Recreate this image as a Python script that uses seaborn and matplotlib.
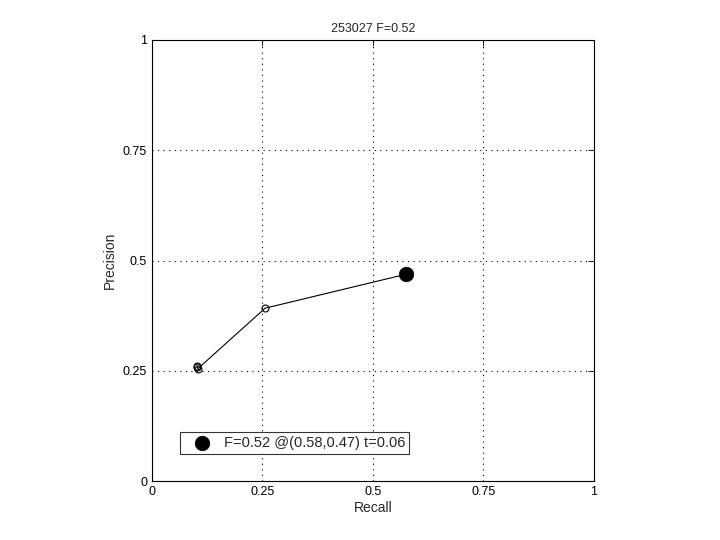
#!/usr/bin/env python3
"""Precision/recall curve for image 253027, MATLAB-style boundary benchmark plot."""

import matplotlib

matplotlib.use("Agg")
import matplotlib.pyplot as plt
import pandas as pd
import seaborn as sns

# values
RECALL = [0.102, 0.103, 0.104, 0.256, 0.575]
PRECISION = [0.262, 0.258, 0.255, 0.392, 0.469]
BEST_R = [0.575]
BEST_P = [0.469]
BEST_LABEL = "F=0.52 @(0.58,0.47) t=0.06"
TITLE = "253027 F=0.52"
TICKS = [0, 0.25, 0.5, 0.75, 1]
TICK_LABELS = ["0", "0.25", "0.5", "0.75", "1"]

sns.set_style("white")
plt.rcParams["font.family"] = ["Liberation Sans", "DejaVu Sans"]
plt.rcParams["font.size"] = 9

curve = pd.DataFrame({"recall": RECALL, "precision": PRECISION})
best = pd.DataFrame({"recall": BEST_R, "precision": BEST_P})

fig = plt.figure(figsize=(7.2, 5.4), dpi=100)
ax = fig.add_axes([0.211, 0.109, 0.614, 0.817])

sns.lineplot(data=curve, x="recall", y="precision", sort=False, color="black",
             linewidth=0.8, marker="o", markersize=5, markerfacecolor="none",
             markeredgecolor="black", markeredgewidth=0.8, ax=ax)
sns.scatterplot(data=best, x="recall", y="precision", color="black", s=110,
                edgecolor="black", linewidth=0.5, zorder=5, label=BEST_LABEL, ax=ax)

ax.set_xlim(0, 1)
ax.set_ylim(0, 1)
ax.set_xticks(TICKS)
ax.set_xticklabels(TICK_LABELS)
ax.set_yticks(TICKS)
ax.set_yticklabels(TICK_LABELS)
ax.tick_params(direction="in", length=4, width=0.6, top=True, right=True,
               labelsize=9, colors="black")
ax.grid(True, linestyle=(0, (1, 4)), color="black", linewidth=0.8)
for spine in ax.spines.values():
    spine.set_color("black")
    spine.set_linewidth(0.8)

ax.set_xlabel("Recall", fontsize=10, labelpad=2)
ax.set_ylabel("Precision", fontsize=10, labelpad=4)
ax.set_title(TITLE, fontsize=9, pad=6)

leg = ax.legend(loc="lower left", bbox_to_anchor=(0.063, 0.062), fontsize=10.5,
                frameon=True, fancybox=False, borderpad=0.25, handletextpad=0.3,
                handlelength=2.5, borderaxespad=0)
leg.get_frame().set_edgecolor("black")
leg.get_frame().set_linewidth(0.8)

fig.savefig("out.png", dpi=100, facecolor="white")
